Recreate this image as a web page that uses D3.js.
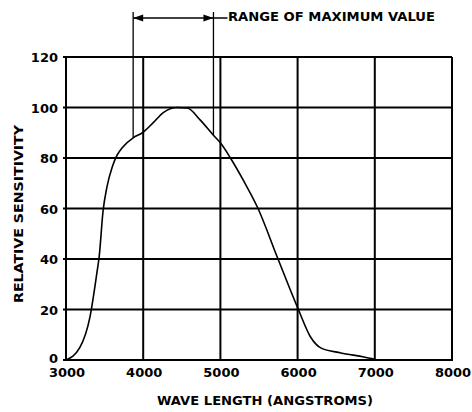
<!DOCTYPE html>
<html>
<head>
<meta charset="utf-8">
<script src="https://cdn.jsdelivr.net/npm/d3@7"></script>
<style>
  body { margin: 0; background: #fff; }
  text { font-family: "DejaVu Sans", sans-serif; font-weight: bold; fill: #000; }
</style>
</head>
<body>
<svg id="chart" width="472" height="412"></svg>
<script>
// curve
const wavelengths = [3000, 3180, 3310, 3400, 3430, 3480, 3530, 3600, 3660, 3740, 3870, 3990, 4130, 4260, 4440, 4570, 4740, 4910, 5000, 5130, 5300, 5480, 5740, 6010, 6170, 6300, 6560, 6860, 7000];
const sensitivity = [0, 5, 17, 34.5, 41, 59, 68.5, 76.5, 81, 84.5, 88, 90, 94, 98, 100, 99.8, 95, 89, 86, 80, 71, 60.5, 40.5, 20, 9, 4.8, 2.8, 1.2, 0.3];
const xTicks = [3000, 4000, 5000, 6000, 7000, 8000];
const yTicks = [0, 20, 40, 60, 80, 100, 120];
const maxRange = [3870, 4910];
const rangeLabel = "RANGE OF MAXIMUM VALUE";
const xTitle = "WAVE LENGTH  (ANGSTROMS)";
const yTitle = "RELATIVE  SENSITIVITY";

const svg = d3.select("#chart");
const plot = { left: 66, right: 452, top: 57, bottom: 360 };

const x = d3.scaleLinear().domain([3000, 8000]).range([plot.left, plot.right]);
const y = d3.scaleLinear().domain([0, 120]).range([plot.bottom, plot.top]);

const data = wavelengths.map((w, i) => ({ w, v: sensitivity[i] }));
// used to end the range markers on the curve
const curveAt = d3.scaleLinear().domain(wavelengths).range(sensitivity);

// grid
svg.append("g")
  .selectAll("line")
  .data(yTicks)
  .join("line")
  .attr("x1", plot.left - 3)
  .attr("x2", plot.right)
  .attr("y1", d => y(d))
  .attr("y2", d => y(d))
  .attr("stroke", "#000")
  .attr("stroke-width", 2);

svg.append("g")
  .selectAll("line")
  .data(xTicks)
  .join("line")
  .attr("x1", d => x(d))
  .attr("x2", d => x(d))
  .attr("y1", plot.top)
  .attr("y2", plot.bottom + 1)
  .attr("stroke", "#000")
  .attr("stroke-width", 2);

// tick labels
svg.append("g")
  .selectAll("text")
  .data(yTicks)
  .join("text")
  .attr("x", plot.left - 8)
  .attr("y", d => y(d) + (d === 0 ? 3 : 5)) // 0 sits a bit higher to clear 3000
  .attr("text-anchor", "end")
  .attr("font-size", 13)
  .text(d => d);

svg.append("g")
  .selectAll("text")
  .data(xTicks)
  .join("text")
  .attr("x", d => x(d) + 1)
  .attr("y", plot.bottom + 17)
  .attr("text-anchor", "middle")
  .attr("font-size", 13)
  .text(d => d);

// titles
svg.append("text")
  .attr("x", 265)
  .attr("y", 405)
  .attr("text-anchor", "middle")
  .attr("font-size", 12.5)
  .attr("textLength", 216)
  .attr("lengthAdjust", "spacingAndGlyphs")
  .text(xTitle);

svg.append("text")
  .attr("transform", "translate(23,214) rotate(-90)")
  .attr("text-anchor", "middle")
  .attr("font-size", 12.5)
  .attr("textLength", 178)
  .attr("lengthAdjust", "spacingAndGlyphs")
  .text(yTitle);

// curve
svg.append("path")
  .datum(data)
  .attr("fill", "none")
  .attr("stroke", "#000")
  .attr("stroke-width", 1.6)
  .attr("d", d3.line().x(d => x(d.w)).y(d => y(d.v)).curve(d3.curveMonotoneX));

// range of maximum value
const arrowY = 18;
svg.append("g")
  .selectAll("line")
  .data(maxRange)
  .join("line")
  .attr("x1", d => x(d))
  .attr("x2", d => x(d))
  .attr("y1", 12)
  .attr("y2", d => y(curveAt(d)))
  .attr("stroke", "#000")
  .attr("stroke-width", 1.3);

const x0 = x(maxRange[0]), x1 = x(maxRange[1]);
svg.append("line")
  .attr("x1", x0).attr("x2", x1 + 14)
  .attr("y1", arrowY).attr("y2", arrowY)
  .attr("stroke", "#000").attr("stroke-width", 1.5);
svg.append("path")
  .attr("d", `M${x0},${arrowY} l10,-3.5 l0,7 Z M${x1},${arrowY} l-10,-3.5 l0,7 Z`)
  .attr("fill", "#000");

svg.append("text")
  .attr("x", 228)
  .attr("y", 21)
  .attr("font-size", 11.5)
  .attr("textLength", 207)
  .attr("lengthAdjust", "spacingAndGlyphs")
  .text(rangeLabel);
</script>
</body>
</html>
